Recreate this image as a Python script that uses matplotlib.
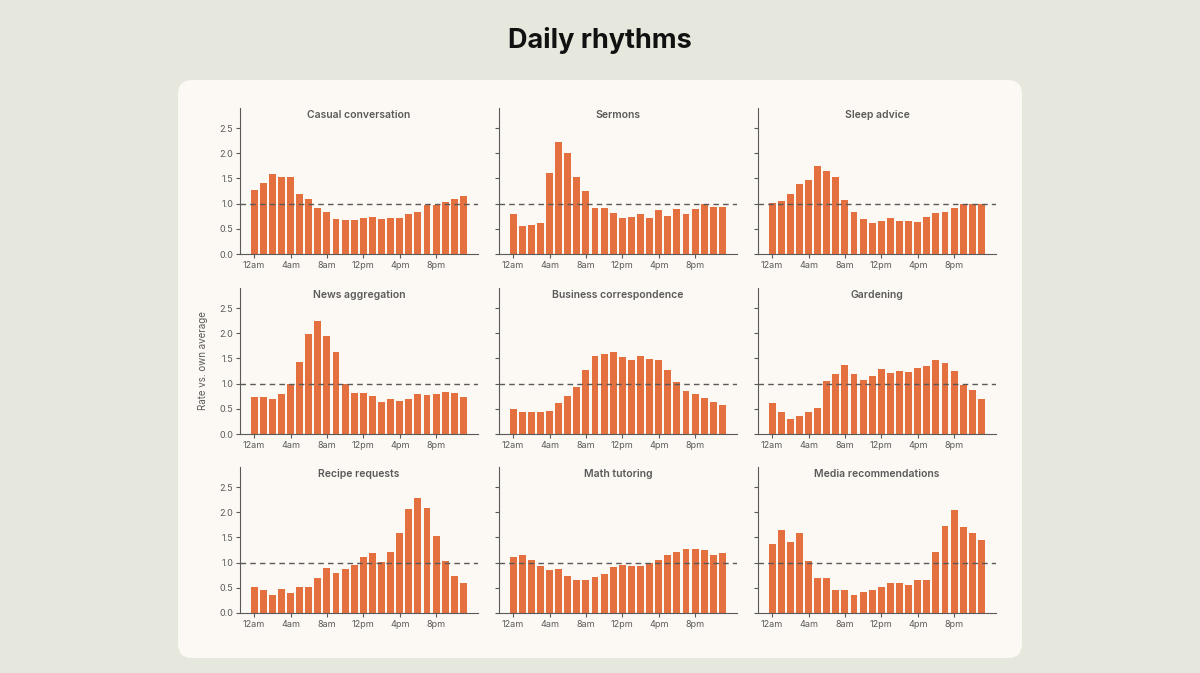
import matplotlib as mpl
import matplotlib.pyplot as plt
from matplotlib.patches import FancyBboxPatch
import numpy as np

hours = np.arange(24)
tick_hours = [0, 4, 8, 12, 16, 20]
tick_labels = ["12am", "4am", "8am", "12pm", "4pm", "8pm"]

titles = [
    "Casual conversation", "Sermons", "Sleep advice",
    "News aggregation", "Business correspondence", "Gardening",
    "Recipe requests", "Math tutoring", "Media recommendations",
]

casual = [1.27, 1.42, 1.59, 1.53, 1.52, 1.19, 1.09, 0.92, 0.83, 0.70, 0.67, 0.67,
          0.72, 0.73, 0.70, 0.72, 0.72, 0.79, 0.83, 0.97, 0.98, 1.04, 1.09, 1.16]
sermons = [0.79, 0.56, 0.58, 0.62, 1.60, 2.23, 2.00, 1.52, 1.26, 0.91, 0.91, 0.82,
           0.71, 0.74, 0.79, 0.71, 0.87, 0.75, 0.89, 0.79, 0.89, 1.00, 0.94, 0.94]
sleep = [1.02, 1.05, 1.19, 1.40, 1.47, 1.74, 1.64, 1.52, 1.08, 0.83, 0.70, 0.62,
         0.66, 0.72, 0.66, 0.66, 0.64, 0.73, 0.81, 0.84, 0.91, 1.00, 0.99, 0.99]
news = [0.74, 0.73, 0.70, 0.79, 1.00, 1.44, 1.98, 2.24, 1.95, 1.62, 1.00, 0.81,
        0.81, 0.75, 0.64, 0.70, 0.66, 0.70, 0.79, 0.78, 0.79, 0.83, 0.81, 0.74]
business = [0.50, 0.44, 0.44, 0.44, 0.46, 0.62, 0.75, 0.93, 1.28, 1.54, 1.59, 1.62,
            1.53, 1.47, 1.54, 1.49, 1.47, 1.27, 1.03, 0.86, 0.79, 0.72, 0.63, 0.58]
gardening = [0.61, 0.44, 0.30, 0.36, 0.44, 0.52, 1.06, 1.19, 1.37, 1.19, 1.08, 1.15,
             1.29, 1.21, 1.26, 1.23, 1.32, 1.36, 1.47, 1.42, 1.25, 0.98, 0.87, 0.69]
recipe = [0.51, 0.45, 0.36, 0.47, 0.39, 0.51, 0.51, 0.70, 0.89, 0.80, 0.88, 0.95,
          1.11, 1.20, 1.01, 1.21, 1.59, 2.06, 2.28, 2.09, 1.53, 1.04, 0.74, 0.59]
math = [1.12, 1.15, 1.06, 0.93, 0.86, 0.88, 0.74, 0.66, 0.66, 0.71, 0.77, 0.91,
        0.96, 0.93, 0.93, 1.00, 1.06, 1.15, 1.22, 1.28, 1.28, 1.25, 1.16, 1.19]
media = [1.37, 1.64, 1.41, 1.59, 1.04, 0.70, 0.70, 0.45, 0.45, 0.36, 0.41, 0.46,
         0.51, 0.59, 0.59, 0.56, 0.66, 0.66, 1.22, 1.73, 2.04, 1.70, 1.59, 1.45]

series = [casual, sermons, sleep, news, business, gardening, recipe, math, media]

BG = "#e7e8dd"
PANEL = "#fcf9f4"
BAR = "#e4703f"
INK = "#5a5a5a"

mpl.rcParams.update({
    "font.family": ["Inter", "DejaVu Sans"],
    "font.size": 7,
    "axes.edgecolor": INK,
    "xtick.color": INK,
    "ytick.color": INK,
})

fig = plt.figure(figsize=(12, 6.73), dpi=100, facecolor=BG)

# rounded card behind the grid of charts
panel = FancyBboxPatch((178 / 1200, 1 - 658 / 673), 844 / 1200, 578 / 673,
                       boxstyle="round,pad=0,rounding_size=0.012",
                       transform=fig.transFigure, facecolor=PANEL,
                       edgecolor="none", mutation_aspect=1200 / 673, zorder=-10)
fig.add_artist(panel)

fig.text(0.5, 1 - 40 / 673, "Daily rhythms", ha="center", va="center",
         fontsize=19.5, fontweight="bold", color="#111111")

lefts = [240 / 1200, 499 / 1200, 758 / 1200]
bottoms = [1 - 254 / 673, 1 - 434 / 673, 1 - 613 / 673]
w, h = 238 / 1200, 146 / 673

for i, (title, vals) in enumerate(zip(titles, series)):
    r, c = divmod(i, 3)
    ax = fig.add_axes([lefts[c], bottoms[r], w, h])
    ax.set_facecolor("none")
    ax.bar(hours, vals, width=0.76, color=BAR, zorder=2)
    ax.axhline(1.0, color=INK, lw=1, ls=(0, (4, 3)), zorder=3)
    ax.set_xlim(-1.55, 24.6)
    ax.set_ylim(0, 2.9)
    ax.set_xticks(tick_hours)
    ax.set_xticklabels(tick_labels, fontsize=6.5)
    ax.set_yticks([0, 0.5, 1.0, 1.5, 2.0, 2.5])
    if c == 0:
        ax.set_yticklabels(["0.0", "0.5", "1.0", "1.5", "2.0", "2.5"], fontsize=6.5)
    else:
        ax.set_yticklabels([])
    ax.tick_params(length=3, width=0.8, pad=2)
    for s in ["top", "right"]:
        ax.spines[s].set_visible(False)
    ax.text(0.5, 0.955, title, transform=ax.transAxes, ha="center", va="center",
            fontsize=7.5, color=INK, fontweight="semibold")
    if i == 3:
        ax.set_ylabel("Rate vs. own average", fontsize=7, color=INK, labelpad=8)

fig.savefig("out.png", dpi=100, facecolor=BG)
